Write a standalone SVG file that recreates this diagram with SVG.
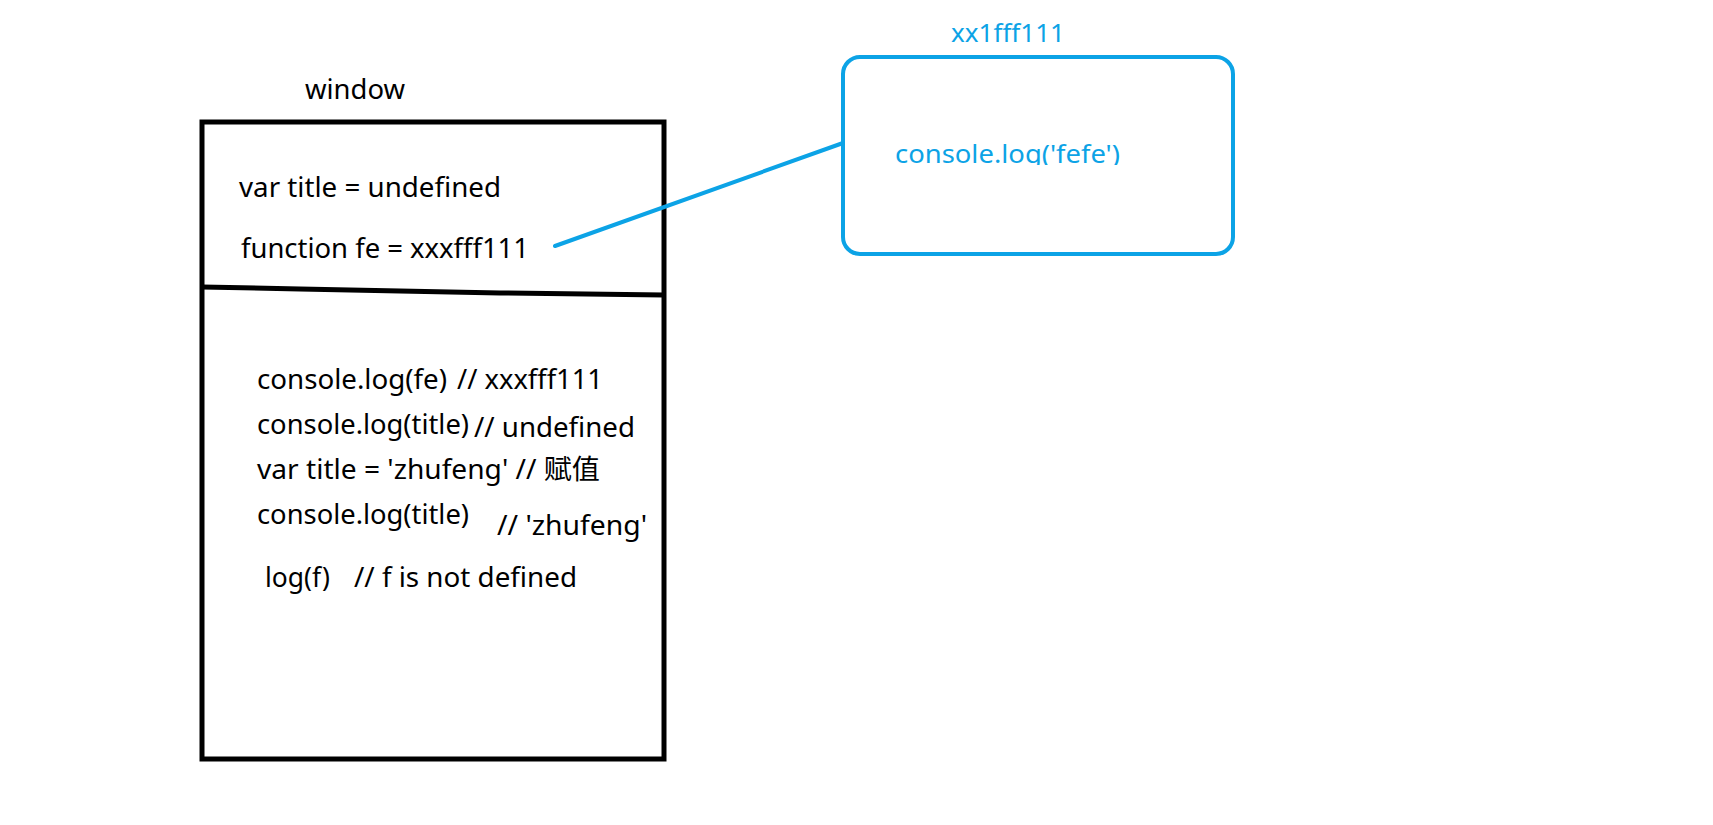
<svg xmlns="http://www.w3.org/2000/svg" width="1713" height="825" viewBox="0 0 1713 825">
<style>
.t{font-family:"Noto Sans","Noto Sans CJK SC",sans-serif;font-size:27.5px;fill:#000}
.b{font-family:"Noto Sans","Noto Sans CJK SC",sans-serif;font-size:26px;fill:#0ca3e6}
.box{fill:none;stroke:#000;stroke-width:5}
</style>
<defs>
<clipPath id="clipFefe"><rect x="850" y="100" width="350" height="65"/></clipPath>
</defs>
<rect width="1713" height="825" fill="#fff"/>
<g id="window">
<text class="t" x="305" y="99" textLength="100" lengthAdjust="spacingAndGlyphs">window</text>
<rect class="box" x="202" y="122" width="462" height="637"/>
<polyline points="202,287 300,289 400,291 500,293 664,295" fill="none" stroke="#000" stroke-width="5"/>
<text class="t" x="239" y="197" textLength="262" lengthAdjust="spacingAndGlyphs">var title = undefined</text>
<text class="t" x="241" y="258" textLength="288" lengthAdjust="spacingAndGlyphs">function fe = xxxfff111</text>
<text class="t" x="257" y="389" textLength="190" lengthAdjust="spacingAndGlyphs">console.log(fe)</text>
<text class="t" x="457" y="389" textLength="146" lengthAdjust="spacingAndGlyphs">// xxxfff111</text>
<text class="t" x="257" y="434" textLength="212" lengthAdjust="spacingAndGlyphs">console.log(title)</text>
<text class="t" x="474" y="437" textLength="161" lengthAdjust="spacingAndGlyphs">// undefined</text>
<text class="t" x="257" y="479" textLength="343" lengthAdjust="spacingAndGlyphs">var title = 'zhufeng' // 赋值</text>
<text class="t" x="257" y="524" textLength="212" lengthAdjust="spacingAndGlyphs">console.log(title)</text>
<text class="t" x="497" y="535" textLength="150" lengthAdjust="spacingAndGlyphs">// 'zhufeng'</text>
<text class="t" x="265" y="587" textLength="65" lengthAdjust="spacingAndGlyphs">log(f)</text>
<text class="t" x="354" y="587" textLength="223" lengthAdjust="spacingAndGlyphs">// f is not defined</text>
</g>
<g id="fn-xx1fff111">
<text class="b" x="951" y="42" textLength="114" lengthAdjust="spacingAndGlyphs">xx1fff111</text>
<rect x="843" y="57" width="390" height="197" rx="17" ry="17" fill="none" stroke="#0ca3e6" stroke-width="4"/>
<text class="b" x="895" y="163" textLength="225" lengthAdjust="spacingAndGlyphs" clip-path="url(#clipFefe)">console.log('fefe')</text>
</g>
<g id="connectors">
<line x1="555" y1="246" x2="843" y2="143" stroke="#0ca3e6" stroke-width="4" stroke-linecap="round"/>
</g>
</svg>
